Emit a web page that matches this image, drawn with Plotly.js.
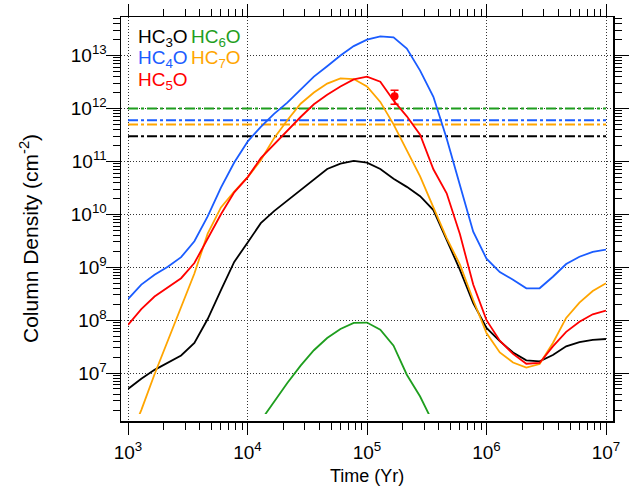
<!DOCTYPE html>
<html>
<head>
<meta charset="utf-8">
<script src="https://cdn.plot.ly/plotly-3.0.1.min.js"></script>
<style>
html,body{margin:0;padding:0;background:#ffffff;}
#chart{width:636px;height:489px;}
</style>
</head>
<body>
<div id="chart"></div>
<script>
// ---------------- data ----------------
const timeYr = [
  1.000e3, 1.292e3, 1.668e3, 2.154e3, 2.783e3, 3.594e3, 4.642e3, 5.995e3, 7.743e3,
  1.000e4, 1.292e4, 1.668e4, 2.154e4, 2.783e4, 3.594e4, 4.642e4, 5.995e4, 7.743e4,
  1.000e5, 1.292e5, 1.668e5, 2.154e5, 2.783e5, 3.594e5, 4.642e5, 5.995e5, 7.743e5,
  1.000e6, 1.292e6, 1.668e6, 2.154e6, 2.783e6, 3.594e6, 4.642e6, 5.995e6, 7.743e6,
  1.000e7
];
const hc3o = [
  5.0e6, 7.8e6, 1.15e7, 1.55e7, 2.15e7, 3.7e7, 1.05e8, 3.7e8, 1.26e9,
  2.9e9, 6.8e9, 1.15e10, 1.82e10, 2.9e10, 4.5e10, 7.2e10, 9.1e10, 1.02e11,
  9.5e10, 7.2e10, 4.7e10, 3.3e10, 2.2e10, 1.2e10, 3.3e9, 8.9e8, 2.1e8,
  7.1e7, 4.0e7, 2.45e7, 1.74e7, 1.66e7, 2.2e7, 3.2e7, 3.85e7, 4.25e7,
  4.4e7
];
const hc4o = [
  2.5e8, 4.7e8, 7.2e8, 1.02e9, 1.55e9, 3.1e9, 9.1e9, 3.2e10, 9.5e10,
  2.35e11, 4.5e11, 7.9e11, 1.29e12, 2.3e12, 4.0e12, 6.3e12, 1.0e13, 1.51e13,
  2.0e13, 2.3e13, 2.2e13, 1.35e13, 5.2e12, 1.66e12, 2.7e11, 3.55e10, 4.7e9,
  1.45e9, 8.1e8, 5.8e8, 4.0e8, 4.0e8, 6.6e8, 1.15e9, 1.58e9, 1.95e9,
  2.15e9
];
const hc5o = [
  8.1e7, 1.62e8, 2.8e8, 4.1e8, 6.2e8, 1.2e9, 3.4e9, 1.0e10, 2.6e10,
  5.0e10, 1.15e11, 2.1e11, 3.7e11, 6.9e11, 1.2e12, 1.82e12, 2.6e12, 3.55e12,
  4.0e12, 3.2e12, 1.41e12, 7.1e11, 3.2e11, 7.1e10, 2.5e10, 4.2e9, 4.7e8,
  1.0e8, 4.1e7, 2.3e7, 1.5e7, 1.55e7, 3.2e7, 6.0e7, 9.3e7, 1.29e8,
  1.51e8
];
const hc6o = [
  null, null, null, null, null, null, null, null, null,
  null, 1.26e6, 2.9e6, 6.5e6, 1.38e7, 2.7e7, 4.6e7, 6.8e7, 8.9e7,
  9.0e7, 6.6e7, 3.3e7, 9.3e6, 3.6e6, 1.12e6, null, null, null,
  null, null, null, null, null, null, null, null, null,
  null
];
const hc7o = [
  5.0e5, 2.0e6, 9.5e6, 4.0e7, 1.66e8, 7.6e8, 4.3e9, 1.35e10, 2.7e10,
  5.0e10, 1.05e11, 2.75e11, 6.0e11, 1.23e12, 2.0e12, 2.95e12, 3.7e12, 3.6e12,
  2.6e12, 1.33e12, 5.0e11, 1.66e11, 5.2e10, 1.35e10, 3.55e9, 1.12e9, 2.4e8,
  5.7e7, 2.45e7, 1.58e7, 1.27e7, 1.48e7, 3.7e7, 1.1e8, 2.15e8, 3.55e8,
  5.0e8
];
// observed upper limits (dash-dot lines)
const limitSpecies = ['HC3O', 'HC4O', 'HC7O', 'HC6O'];
const limitValues  = [3.0e11, 6.0e11, 5.0e11, 1.0e12];
const limitTimes   = [1e3, 1e7];
// observed HC5O column density with error
const obsTime  = [1.7e5];
const obsHC5O  = [1.7e12];
const obsError = [0.5e12];
// tick labels
const xTickVals = [1e3, 1e4, 1e5, 1e6, 1e7];
const xTickText = ['10<sup>3</sup>', '10<sup>4</sup>', '10<sup>5</sup>', '10<sup>6</sup>', '10<sup>7</sup>'];
const yTickVals = [1e7, 1e8, 1e9, 1e10, 1e11, 1e12, 1e13];
const yTickText = ['10<sup>7</sup>', '10<sup>8</sup>', '10<sup>9</sup>', '10<sup>10</sup>', '10<sup>11</sup>', '10<sup>12</sup>', '10<sup>13</sup>'];
const legendLabels = ['HC<sub>3</sub>O', 'HC<sub>6</sub>O', 'HC<sub>4</sub>O', 'HC<sub>7</sub>O', 'HC<sub>5</sub>O'];

// ---------------- styling / layout ----------------
const COL = {HC3O:'#000000', HC4O:'#1a5cff', HC5O:'#ff0000', HC6O:'#1e9e1e', HC7O:'#ffa500'};
const FONT = 'Liberation Sans, Arial, Helvetica, sans-serif';
const W = 636, H = 489;
const FR = {l:121, r:613, t:17, b:421};      // frame (axis lines) in px
const SO = 7;                                 // axis standoff in px
const fw = FR.r - FR.l, fh = FR.b - FR.t;
const xDec = (fw - 2*SO) / 4;                 // px per decade along x (1e3..1e7)
const yLo = 6.2264, yHi = 13.5962;            // data window (log10) in the inner area
const yDec = (fh - 2*SO) / (yHi - yLo);

function minorTicks(lo, hi){
  const out = [];
  for (let d = lo; d <= hi; d++) for (let m = 2; m <= 9; m++) out.push(m*Math.pow(10, d));
  return out;
}

const traces = [];
traces.push({x:[1e4], y:[1e9], xaxis:'x', yaxis:'y', mode:'markers', marker:{opacity:0}, hoverinfo:'skip', showlegend:false});

const limitColors = [COL.HC3O, COL.HC4O, COL.HC7O, COL.HC6O];
limitValues.forEach((v, i) => {
  traces.push({x:limitTimes, y:[v, v], xaxis:'x2', yaxis:'y2', mode:'lines',
    line:{color:limitColors[i], width:2, dash:'10px,3px,3px,3px'}, showlegend:false, name:limitSpecies[i]});
});

const series = [['HC6O', hc6o], ['HC3O', hc3o], ['HC7O', hc7o], ['HC5O', hc5o], ['HC4O', hc4o]];
series.forEach(([n, arr]) => {
  traces.push({x:timeYr, y:arr, xaxis:'x2', yaxis:'y2', mode:'lines', name:n,
    line:{color:COL[n], width:1.8}, connectgaps:false, showlegend:false});
});

traces.push({x:obsTime, y:obsHC5O, xaxis:'x2', yaxis:'y2', mode:'markers', name:'HC5O obs',
  marker:{color:COL.HC5O, size:8},
  error_y:{type:'data', array:obsError, arrayminus:obsError, color:COL.HC5O, thickness:1.5, width:4},
  showlegend:false});

const xRangeFrame = [3 - SO/xDec, 7 + SO/xDec];
const yRangeFrame = [yLo - SO/yDec, yHi + SO/yDec];

function px2paperX(px){ return (px - FR.l)/fw; }
function px2paperY(py){ return (FR.b - py)/fh; }

const annotations = [];
const legPos = [[138, 37.5, 'HC3O'], [191, 37.5, 'HC6O'], [138, 59.5, 'HC4O'], [191, 59.5, 'HC7O'], [138, 81, 'HC5O']];
legPos.forEach(([px, py, n], i) => {
  annotations.push({xref:'paper', yref:'paper', x:px2paperX(px - 2), y:px2paperY(py),
    xanchor:'left', yanchor:'middle', showarrow:false, text:legendLabels[i],
    font:{family:FONT, size:19, color:COL[n]}});
});
annotations.push({xref:'paper', yref:'paper', x:0.5, y:px2paperY(476), xanchor:'center', yanchor:'middle',
  showarrow:false, text:'Time (Yr)', font:{family:FONT, size:18, color:'#000'}});
annotations.push({xref:'paper', yref:'paper', x:px2paperX(29), y:px2paperY(239), xanchor:'center', yanchor:'middle',
  textangle:-90, showarrow:false, text:'Column Density (cm<sup>-2</sup>)', font:{family:FONT, size:21, color:'#000'}});

const shapes = [{type:'rect', xref:'paper', yref:'paper', layer:'above',
  x0:px2paperX(133), x1:px2paperX(245), y0:px2paperY(93), y1:px2paperY(27),
  fillcolor:'#ffffff', line:{width:0}}];

const layout = {
  width:W, height:H,
  margin:{l:FR.l, r:W-FR.r, t:FR.t, b:H-FR.b, pad:0},
  paper_bgcolor:'#ffffff', plot_bgcolor:'rgba(0,0,0,0)',
  showlegend:false,
  font:{family:FONT, size:16, color:'#000'},
  xaxis:{type:'log', range:xRangeFrame, domain:[0,1], anchor:'y',
    showline:true, linecolor:'#000', linewidth:1.5, mirror:'allticks',
    ticks:'outside', ticklen:12, tickwidth:1, tickcolor:'#000',
    tickmode:'array', tickvals:xTickVals, ticktext:xTickText,
    tickfont:{family:FONT, size:19, color:'#000'}, ticklabelstandoff:2,
    showgrid:true, gridcolor:'#333', gridwidth:1, griddash:'1px,2px', zeroline:false,
    minor:{tickmode:'array', tickvals:minorTicks(3, 6), ticks:'outside', ticklen:7, tickwidth:1, tickcolor:'#000', showgrid:false},
    fixedrange:true},
  yaxis:{type:'log', range:yRangeFrame, domain:[0,1], anchor:'x',
    showline:true, linecolor:'#000', linewidth:1.5, mirror:'allticks',
    ticks:'outside', ticklen:14, tickwidth:1, tickcolor:'#000',
    tickmode:'array', tickvals:yTickVals, ticktext:yTickText,
    tickfont:{family:FONT, size:19, color:'#000'}, ticklabelstandoff:-5,
    showgrid:true, gridcolor:'#333', gridwidth:1, griddash:'1px,2px', zeroline:false,
    minor:{tickmode:'array', tickvals:minorTicks(6, 13), ticks:'outside', ticklen:7, tickwidth:1, tickcolor:'#000', showgrid:false},
    fixedrange:true},
  xaxis2:{type:'log', range:[3, 7], domain:[SO/fw, 1 - SO/fw], anchor:'y2',
    showline:false, showgrid:false, zeroline:false, ticks:'', showticklabels:false, fixedrange:true},
  yaxis2:{type:'log', range:[yLo, yHi], domain:[SO/fh, 1 - SO/fh], anchor:'x2',
    showline:false, showgrid:false, zeroline:false, ticks:'', showticklabels:false, fixedrange:true},
  annotations:annotations,
  shapes:shapes
};

Plotly.newPlot('chart', traces, layout, {displayModeBar:false, staticPlot:true});
</script>
</body>
</html>
